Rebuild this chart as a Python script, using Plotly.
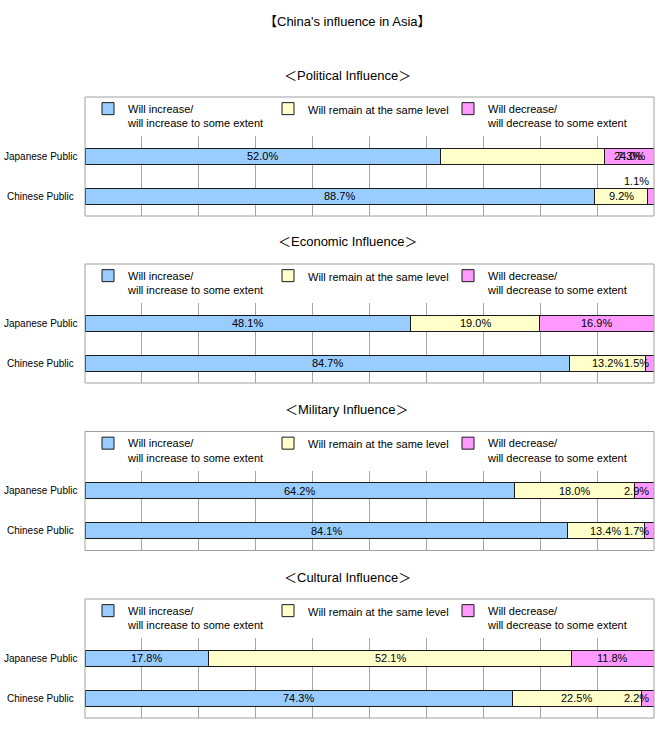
import plotly.graph_objects as go

# ---------------- data ----------------
panel_titles = ["Political Influence", "Economic Influence", "Military Influence", "Cultural Influence"]
groups = ["Japanese Public", "Chinese Public"]
series_names = [
    "Will increase/<br>will increase to some extent",
    "Will remain at the same level",
    "Will decrease/<br>will decrease to some extent",
]
increase_japan = [52.0, 48.1, 64.2, 17.8]
increase_china = [88.7, 84.7, 84.1, 74.3]
same_japan = [24.0, 19.0, 18.0, 52.1]
same_china = [9.2, 13.2, 13.4, 22.5]
decrease_japan = [7.3, 16.9, 2.9, 11.8]
decrease_china = [1.1, 1.5, 1.7, 2.2]

# ---------------- styling ----------------
W, H = 670, 744
FONT = "Liberation Sans, Arial, Noto Sans CJK JP, sans-serif"
colors = ["#99CCFF", "#FFFFCC", "#FF99FF"]
panel_tops = [97, 264, 431.5, 599]
X0, X1 = 85, 654

series = [(increase_japan, increase_china), (same_japan, same_china), (decrease_japan, decrease_china)]

fig = go.Figure()
layout = dict(
    width=W, height=H, autosize=False,
    margin=dict(l=0, r=0, t=0, b=0),
    paper_bgcolor="white", plot_bgcolor="white",
    barmode="stack", barnorm="percent", bargap=0.6,
    font=dict(family=FONT, size=11, color="black"),
    showlegend=True,
)
annotations = []
shapes = []

annotations.append(dict(text="【China's influence in Asia】", xref="paper", yref="paper",
                        x=347 / W, y=1 - 22 / H, xanchor="center", yanchor="middle",
                        showarrow=False, font=dict(size=13)))

for p in range(4):
    ax = "" if p == 0 else str(p + 1)
    xa, ya = "x" + ax, "y" + ax
    leg = "legend" + ax
    top = panel_tops[p]
    plot_top, plot_bot = top + 39, top + 119

    for k in range(3):
        vals = [series[k][0][p], series[k][1][p]]
        fig.add_trace(go.Bar(
            x=vals, y=groups, orientation="h", name=series_names[k],
            marker=dict(color=colors[k], line=dict(color="#1a1a1a", width=1)),
            xaxis=xa, yaxis=ya, legend=leg, hoverinfo="skip",
        ))

    layout["xaxis" + ax] = dict(domain=[X0 / W, X1 / W], range=[0, 100], dtick=10,
                               showgrid=True, gridcolor="#A6A6A6", gridwidth=1,
                               showticklabels=False, zeroline=False, showline=False,
                               fixedrange=True, anchor=ya)
    layout["yaxis" + ax] = dict(domain=[1 - plot_bot / H, 1 - plot_top / H], type="category",
                               categoryorder="array", categoryarray=groups[::-1],
                               range=[-0.5, 1.5], showticklabels=False, showgrid=False,
                               zeroline=False, fixedrange=True, anchor=xa)
    layout[leg] = dict(x=88 / W, y=1 - (top - 2) / H, xanchor="left", yanchor="top",
                       orientation="h", valign="top", entrywidth=135, entrywidthmode="pixels",
                       font=dict(size=11), bgcolor="rgba(0,0,0,0)", traceorder="normal",
                       itemclick=False, itemdoubleclick=False)

    # frame around chart incl. legend area
    shapes.append(dict(type="rect", xref=xa + " domain", yref=ya + " domain",
                       x0=0, x1=1, y0=0, y1=119 / 80,
                       line=dict(color="#A0A0A0", width=1), fillcolor="rgba(0,0,0,0)"))

    # panel subtitle
    annotations.append(dict(text="＜" + panel_titles[p] + "＞", xref="paper", yref="paper",
                            x=347 / W, y=1 - (top - 22) / H, xanchor="center", yanchor="middle",
                            showarrow=False, font=dict(size=13)))

    for g in range(2):
        # category labels (centered)
        annotations.append(dict(text=groups[g], xref="paper", yref=ya, x=40.5 / W, y=groups[g],
                                xanchor="center", yanchor="middle", showarrow=False,
                                font=dict(size=10)))
        vals = [series[k][g][p] for k in range(3)]
        total = sum(vals)
        norm = [v / total * 100 for v in vals]
        cum = [sum(norm[:k]) for k in range(3)]
        for k in range(3):
            txt = f"{vals[k]:.1f}%"
            x = cum[k] + norm[k] / 2
            xanchor, xshift, yshift = "center", 0, 0
            if norm[k] < 5:
                x, xanchor, xshift = 100, "right", -3
            # label placements as in the original chart
            if p == 0 and g == 0 and k == 1:
                x = cum[2] + norm[2] / 2
            if p == 0 and g == 1 and k == 2:
                yshift = 15
            annotations.append(dict(text=txt, xref=xa, yref=ya, x=x, y=groups[g],
                                    xanchor=xanchor, yanchor="middle", xshift=xshift,
                                    yshift=yshift, showarrow=False, font=dict(size=11)))

layout["annotations"] = annotations
layout["shapes"] = shapes
fig.update_layout(**layout)
fig.write_html("out.html", config={"displayModeBar": False},
               post_script="document.body.style.margin='0';")
